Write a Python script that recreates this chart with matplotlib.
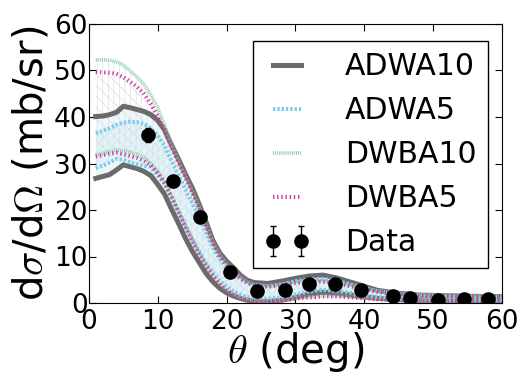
import matplotlib
matplotlib.use("Agg")
import matplotlib.pyplot as plt

plt.rcParams['mathtext.fontset'] = 'cm'
plt.rcParams['hatch.linewidth'] = 0.5
plt.rcParams['lines.scale_dashes'] = False

# angle grid (deg)
theta = [1, 2, 3, 4, 5, 6, 7, 8, 9, 10, 11, 12, 13, 14, 15, 16, 17, 18, 19, 20,
         21, 22, 23, 24, 26, 28, 30, 32, 34, 36, 38, 40, 42, 45, 48, 51, 54, 57, 60]

# ADWA10 band
adwa10_hi = [40.1, 40.2, 40.5, 41.0, 42.3, 42.0, 41.6, 41.2, 40.5, 39.3, 37.2, 34.0, 31.0, 27.8, 24.8, 21.3, 17.5, 13.5, 10.8, 9.0,
             7.6, 6.0, 4.9, 4.4, 4.2, 4.7, 5.3, 5.8, 6.0, 5.4, 4.5, 3.6, 2.7, 2.1, 1.7, 1.6, 1.5, 1.4, 1.4]
adwa10_lo = [26.8, 27.2, 27.6, 28.6, 29.7, 29.3, 28.9, 28.3, 27.4, 25.5, 23.4, 20.2, 17.2, 14.0, 11.2, 8.8, 6.4, 4.6, 3.2, 2.2,
             1.5, 1.0, 0.6, 0.4, 0.3, 0.6, 1.2, 1.9, 2.3, 2.1, 1.7, 1.3, 1.0, 0.7, 0.5, 0.4, 0.4, 0.4, 0.4]

# ADWA5 band
adwa5_hi = [36.5, 37.0, 37.6, 38.3, 38.8, 39.0, 38.9, 38.5, 37.6, 36.0, 33.8, 30.6, 27.6, 24.5, 21.6, 18.5, 15.2, 12.0, 9.5, 7.7,
            6.4, 5.2, 4.3, 3.8, 3.6, 4.0, 4.7, 5.1, 5.2, 4.8, 4.0, 3.2, 2.5, 1.9, 1.6, 1.4, 1.3, 1.2, 1.2]
adwa5_lo = [29.0, 29.5, 30.2, 31.0, 30.8, 30.2, 29.8, 29.5, 29.2, 27.4, 25.6, 22.8, 19.8, 16.8, 13.8, 11.2, 8.6, 6.6, 4.8, 3.5,
            2.5, 1.8, 1.3, 1.0, 0.9, 1.2, 1.8, 2.5, 2.8, 2.6, 2.2, 1.7, 1.3, 1.0, 0.8, 0.7, 0.7, 0.7, 0.7]

# DWBA10 band
dwba10_hi = [52.3, 52.3, 52.2, 51.9, 51.2, 49.9, 48.6, 47.0, 44.8, 42.0, 38.3, 34.0, 30.6, 27.3, 24.2, 20.8, 17.0, 13.2, 10.4, 8.5,
             7.0, 5.6, 4.6, 4.0, 3.7, 4.0, 4.5, 4.8, 4.8, 4.4, 3.8, 3.2, 2.6, 2.1, 1.8, 1.7, 1.6, 1.5, 1.5]
dwba10_lo = [31.8, 32.2, 32.6, 32.9, 32.8, 32.4, 32.0, 31.2, 30.0, 28.3, 26.0, 23.0, 19.8, 16.6, 13.6, 10.8, 8.2, 6.0, 4.2, 2.9,
             1.9, 1.2, 0.8, 0.5, 0.4, 0.6, 1.0, 1.3, 1.5, 1.5, 1.3, 1.1, 0.9, 0.7, 0.5, 0.4, 0.4, 0.4, 0.4]

# DWBA5 band
dwba5_hi = [49.7, 49.6, 49.5, 49.3, 48.6, 47.6, 46.5, 45.0, 42.8, 40.2, 37.0, 33.5, 30.2, 27.0, 23.8, 20.4, 16.6, 12.9, 10.1, 8.2,
            6.7, 5.4, 4.4, 3.8, 3.5, 3.8, 4.3, 4.6, 4.6, 4.2, 3.6, 3.0, 2.4, 1.9, 1.6, 1.5, 1.4, 1.3, 1.3]
dwba5_lo = [31.5, 31.8, 32.1, 32.3, 32.0, 31.6, 31.2, 30.6, 29.6, 28.0, 25.8, 22.8, 19.6, 16.4, 13.4, 10.6, 8.0, 5.8, 4.0, 2.7,
            1.8, 1.1, 0.7, 0.4, 0.3, 0.5, 0.9, 1.2, 1.4, 1.4, 1.2, 1.0, 0.8, 0.6, 0.5, 0.4, 0.4, 0.4, 0.4]

# experimental data
data_theta = [8.6, 12.2, 16.2, 20.5, 24.4, 28.5, 32.0, 35.7, 39.5, 44.2, 46.7, 50.7, 54.5, 58.0]
data_xs = [36.1, 26.2, 18.6, 6.7, 2.6, 2.7, 4.0, 4.0, 2.9, 1.6, 1.0, 0.6, 0.8, 0.9]
data_err = [1.5, 1.2, 0.9, 0.4, 0.2, 0.2, 0.3, 0.3, 0.2, 0.1, 0.1, 0.1, 0.1, 0.1]

gray = '#6b6b6b'
blue = '#7ecbea'
green = '#8cc9a4'
pink = '#d43c9e'

fig = plt.figure(figsize=(5.26, 3.75), dpi=100)
ax = fig.add_axes([0.169, 0.192, 0.785, 0.744])

# shaded bands
ax.fill_between(theta, adwa10_lo, adwa10_hi, facecolor='#eef8fb', edgecolor='none', zorder=1)
ax.fill_between(theta, adwa5_lo, adwa5_hi, facecolor='#e2f4fa', edgecolor='#c4e7f3', hatch='////', linewidth=0, zorder=1)
ax.fill_between(theta, dwba10_lo, dwba10_hi, facecolor='none', edgecolor='#cdebd8', hatch='|||', linewidth=0, zorder=1)
ax.fill_between(theta, dwba5_lo, dwba5_hi, facecolor='none', edgecolor='#f6cde5', hatch='\\\\\\', linewidth=0, zorder=1)

# band edges
ax.plot(theta, adwa10_hi, color=gray, lw=3.6, label='ADWA10', zorder=3)
ax.plot(theta, adwa10_lo, color=gray, lw=3.6, zorder=3)
ax.plot(theta, adwa5_hi, color=blue, lw=2.9, dashes=(1.7, 1.4), label='ADWA5', zorder=4)
ax.plot(theta, adwa5_lo, color=blue, lw=2.9, dashes=(1.7, 1.4), zorder=4)
ax.plot(theta, dwba10_hi, color=green, lw=2.6, dashes=(0.7, 0.8), label='DWBA10', zorder=4)
ax.plot(theta, dwba10_lo, color=green, lw=2.6, dashes=(0.7, 0.8), zorder=4)
ax.plot(theta, dwba5_hi, color=pink, lw=2.9, dashes=(1.0, 2.0), label='DWBA5', zorder=5)
ax.plot(theta, dwba5_lo, color=pink, lw=2.9, dashes=(1.0, 2.0), zorder=5)

ax.errorbar(data_theta, data_xs, yerr=data_err, fmt='o', color='black', ms=9.5,
            capsize=2, elinewidth=1, label='Data', zorder=6)

ax.set_xlim(0, 60)
ax.set_ylim(0, 60)
ax.set_xticks([0, 10, 20, 30, 40, 50, 60])
ax.set_yticks([0, 10, 20, 30, 40, 50, 60])
ax.tick_params(direction='in', top=True, right=True, length=5, labelsize=19)
ax.tick_params(axis='y', pad=1)
ax.tick_params(axis='x', pad=4)

ax.set_xlabel(r'$\theta$ (deg)', fontsize=29, labelpad=-3)
ax.set_ylabel(r'd$\sigma$/d$\Omega$ (mb/sr)', fontsize=29, labelpad=2)

leg = ax.legend(loc='upper right', bbox_to_anchor=(0.966, 0.939), borderaxespad=0,
                fontsize=21.5, numpoints=2, fancybox=False, framealpha=1,
                handlelength=1.55, handletextpad=1.15, labelspacing=0.5, borderpad=0.38)
leg.get_frame().set_edgecolor('black')

fig.savefig('out.png', dpi=100)
